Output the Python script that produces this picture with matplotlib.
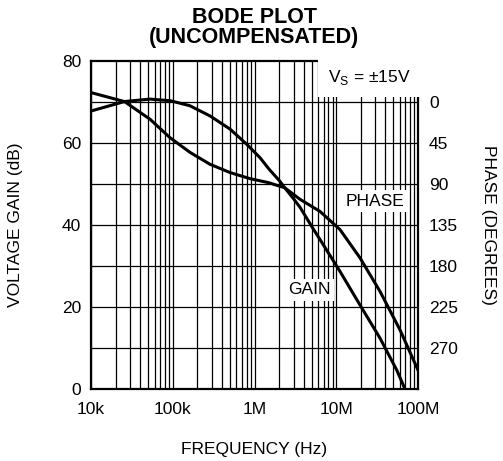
import matplotlib
matplotlib.use("Agg")
import matplotlib.pyplot as plt
from matplotlib.ticker import FixedLocator, NullLocator

plt.rcParams['font.family'] = ['Liberation Sans', 'DejaVu Sans']

# Data
gain_freq = [1.0e4, 2.57e4, 5.27e4, 9.25e4, 1.63e5, 2.86e5, 5.01e5, 8.81e5,
             1.51e6, 1.86e6, 2.34e6, 2.95e6, 3.61e6, 5.25e6, 6.31e6, 1.11e7,
             1.95e7, 3.43e7, 5.5e7, 6.92e7]
gain_db = [72.3, 70.1, 65.8, 61.3, 57.7, 54.8, 52.8, 51.3,
           50.3, 49.7, 49.1, 46.6, 44.3, 39.0, 36.5, 28.7,
           20.5, 12.4, 4.6, 0.0]

phase_freq = [1.0e4, 2.57e4, 5.25e4, 9.33e4, 1.62e5, 2.86e5, 5.01e5, 8.04e5,
              1.17e6, 1.51e6, 2.04e6, 2.34e6, 3.63e6, 6.31e6, 1.11e7, 1.95e7,
              3.43e7, 6.03e7, 1.0e8]
phase_deg = [9.9, -0.5, -3.2, -1.4, 4.1, 15.3, 29.7, 46.4,
             61.2, 73.8, 86.9, 94.1, 107.0, 120.0, 140.0, 171.0,
             207.9, 250.2, 294.3]

x_ticks = [1e4, 1e5, 1e6, 1e7, 1e8]
x_labels = ['10k', '100k', '1M', '10M', '100M']
y_ticks = [0, 20, 40, 60, 80]
phase_ticks = [0, 45, 90, 135, 180, 225, 270]

FS = 12.5

fig = plt.figure(figsize=(5.03, 4.61), dpi=100)
ax = fig.add_axes([91/503, 1-389/461, (418-91)/503, (389-61)/461])
ax.set_xscale('log')
ax.set_xlim(1e4, 1e8)
ax.set_ylim(0, 80)

# grid
for dec in [1e4, 1e5, 1e6, 1e7]:
    for m in range(1, 10):
        ax.axvline(dec*m, color='black', lw=0.9, zorder=1)
for v in range(10, 80, 10):
    ax.axhline(v, color='black', lw=0.9, zorder=1)

ax.plot(gain_freq, gain_db, color='black', lw=2.2, zorder=4,
        solid_joinstyle='round')

ax2 = ax.twinx()
ax2.set_ylim(315, -45)
ax2.plot(phase_freq, phase_deg, color='black', lw=2.2, zorder=4,
         solid_joinstyle='round')
ax2.set_yticks(phase_ticks)
ax2.set_yticklabels([str(p) for p in phase_ticks])
ax2.tick_params(axis='y', length=0, labelsize=FS, pad=8)
ax2.set_ylabel('PHASE (DEGREES)', rotation=-90, fontsize=FS, labelpad=27)
for s in ax2.spines.values():
    s.set_visible(False)

ax.xaxis.set_major_locator(FixedLocator(x_ticks))
ax.xaxis.set_minor_locator(NullLocator())
ax.set_xticklabels(x_labels)
ax.set_yticks(y_ticks)
ax.tick_params(axis='both', length=0, labelsize=FS)
ax.tick_params(axis='x', pad=9)
ax.tick_params(axis='y', pad=7)
for s in ax.spines.values():
    s.set_linewidth(1.6)
    s.set_zorder(6)

ax.set_xlabel('FREQUENCY (Hz)', fontsize=FS, labelpad=18)
ax.set_ylabel('VOLTAGE GAIN (dB)', fontsize=FS, labelpad=28)
ax.set_title('BODE PLOT\n(UNCOMPENSATED)', fontsize=15.5, fontweight='bold',
             linespacing=0.95, pad=13)

box = dict(facecolor='white', edgecolor='none', pad=2.5)
ax2.text(0.976, 0.95, r'V$_\mathregular{S}$ = ±15V', transform=ax.transAxes,
         ha='right', va='center', fontsize=FS,
         bbox=dict(facecolor='white', edgecolor='none', pad=7), zorder=5)
ax2.text(0.868, 0.573, 'PHASE', transform=ax.transAxes, ha='center', va='center',
         fontsize=FS, bbox=box, zorder=5)
ax2.text(0.667, 0.302, 'GAIN', transform=ax.transAxes, ha='center', va='center',
         fontsize=FS, bbox=box, zorder=5)

fig.savefig('out.png', dpi=100)
